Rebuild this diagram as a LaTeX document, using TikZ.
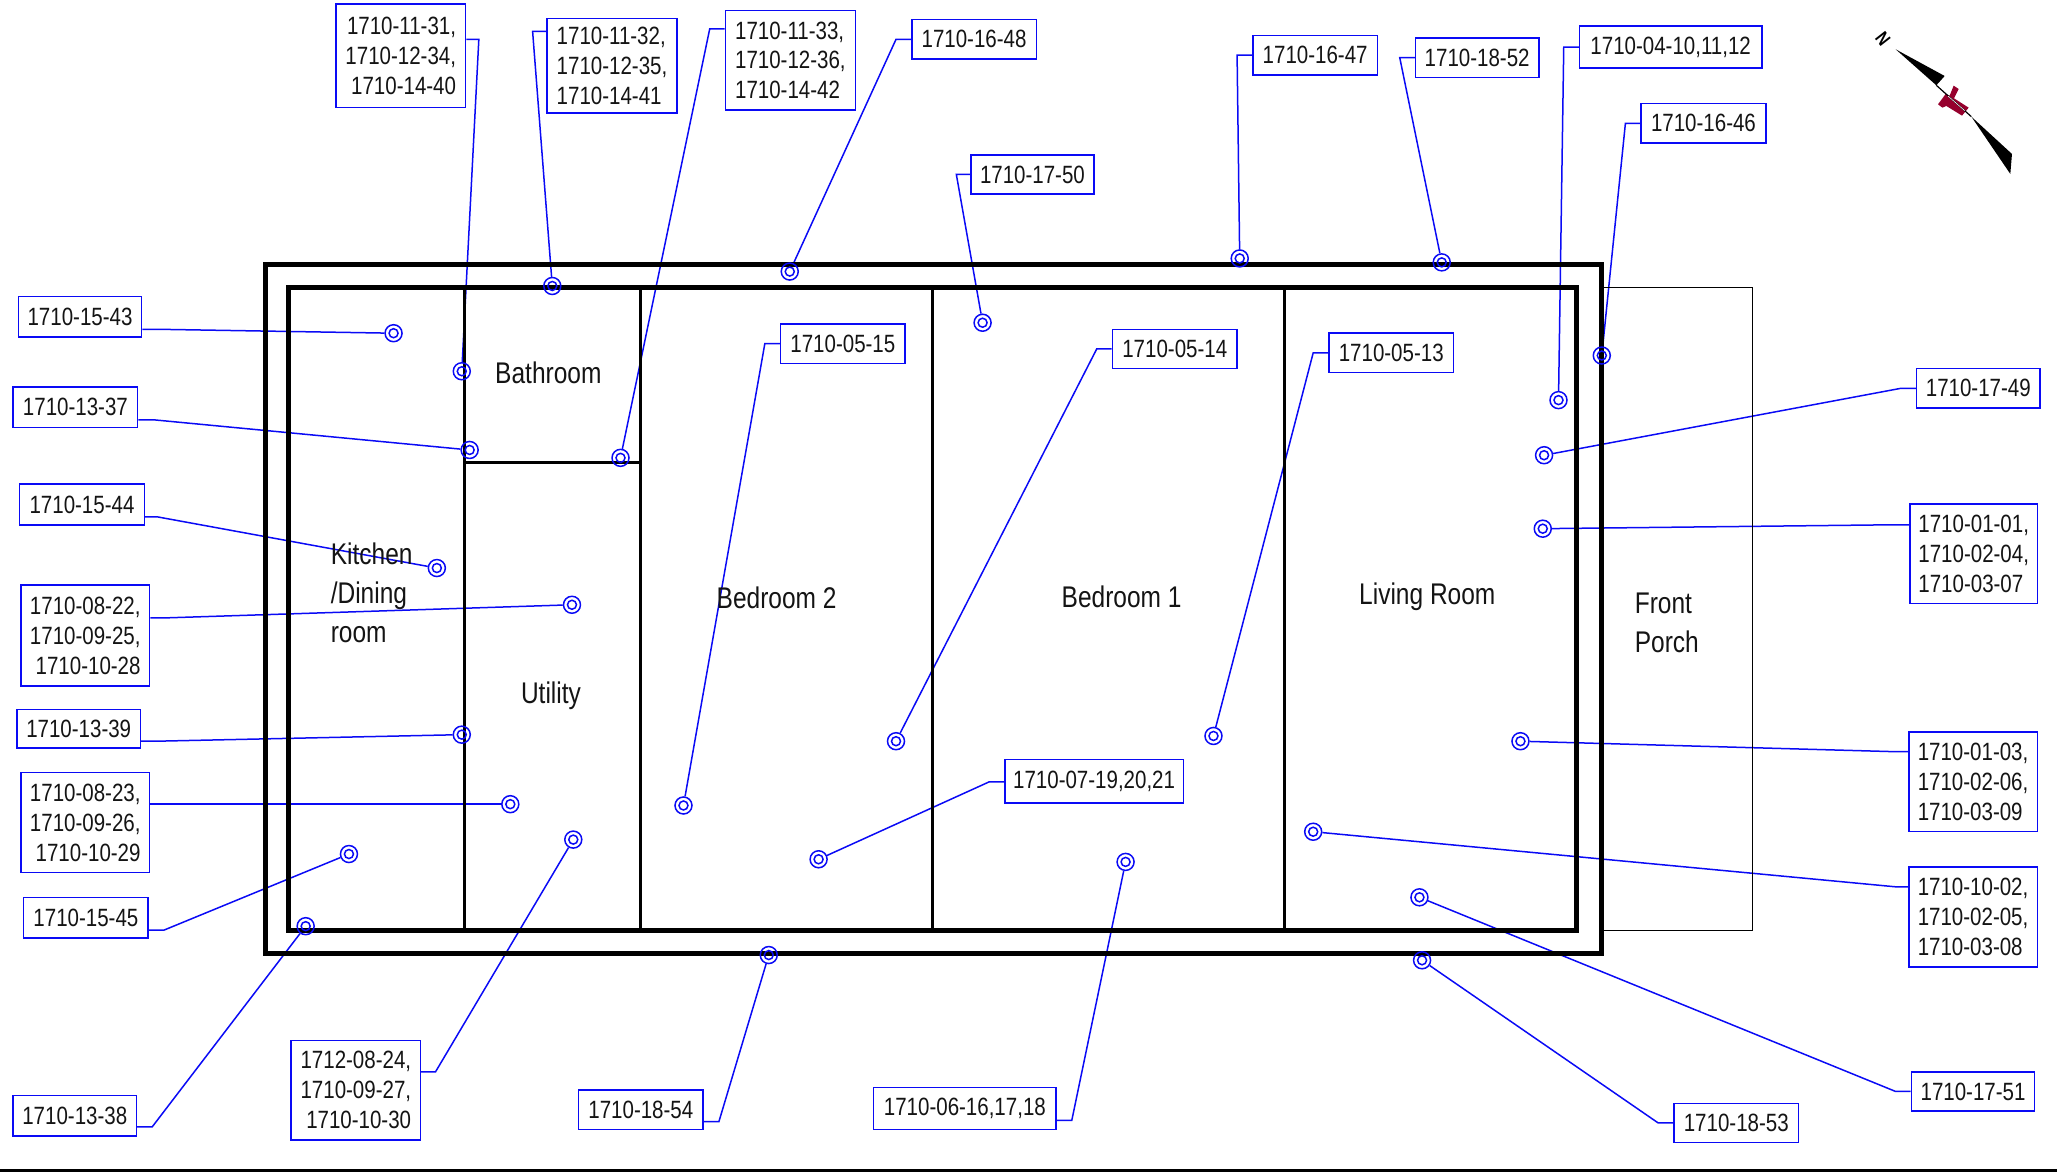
\documentclass[tikz,border=0pt]{standalone}
\usepackage{fontspec}
\setmainfont[FakeStretch=0.82]{Liberation Sans}
\pgfdeclarelayer{conn}\pgfdeclarelayer{walls}
\pgfsetlayers{conn,walls,main}
\definecolor{leadblue}{RGB}{10,10,245}
\definecolor{needlered}{RGB}{150,0,45}
\tikzset{
 x=1.3119bp,y=-1.3119bp,
 tagbox/.style={draw=leadblue,line width=1.5bp,fill=white,inner sep=0pt,text=black!92,font=\fontsize{25.1}{30}\selectfont},
 pt/.style={circle,draw=leadblue,line width=1.5bp,minimum size=17bp,inner sep=0pt,
   path picture={\draw[leadblue,line width=1.5bp] (path picture bounding box.center) circle (4.5bp);}},
 leadline/.style={draw=leadblue,line width=1.5bp},
 wall/.style={draw=black,line width=5bp,line join=miter},
 part/.style={draw=black,line width=3bp},
 room/.style={text=black!92,inner sep=0pt,font=\fontsize{30}{39}\selectfont},
}
\newcommand{\tagb}[7][center]{% [align] name x1 y1 x2 y2 text
 \node[tagbox,align=#1,minimum width={(#5-#3)*1.3119bp},minimum height={(#6-#4)*1.3119bp}] (#2) at ({(#3+#5)/2},{(#4+#6)/2}) {#7};}
\newcommand{\lead}[7]{% box anchor ex ey tx ty id
 \node[pt] (t#7) at (#5,#6) {};
 \coordinate (e#7) at (#3,#4);
 \begin{pgfonlayer}{conn}
 \draw[leadline] (#1.#2 |- e#7) -- (e#7) -- (t#7);
 \end{pgfonlayer}}
\begin{document}
\begin{tikzpicture}
\useasboundingbox (0,0) rectangle (1568,893.4);
% walls
\begin{pgfonlayer}{walls}
\draw[draw=black,line width=1bp] (1221,219) rectangle (1336,709.5);
\draw[wall] (202.5,202) rectangle (1220.5,727);
\draw[wall] (220,219.5) rectangle (1202,709);
\draw[part] (354,219) -- (354,709);
\draw[part] (488,219) -- (488,709);
\draw[part] (711,219) -- (711,709);
\draw[part] (979,219) -- (979,709);
\draw[part] (354,352.5) -- (488,352.5);
\draw[draw=black,line width=3bp] (0,892) -- (1568,892);
\end{pgfonlayer}
% rooms
\node[room] (bath) at (418,284) {Bathroom};
\node[room] (bed2) at (592,456) {Bedroom 2};
\node[room] (bed1) at (855,455) {Bedroom 1};
\node[room] (living) at (1088,455) {Living Room};
\node[room] (util) at (420,530) {Utility};
\node[room,align=left,anchor=west] (kitchen) at (252,452) {Kitchen\\/Dining\\room};
\node[room,align=left,anchor=west] (porch) at (1246,475) {Front\\Porch};
% tags: top
\tagb[right]{a1}{256}{3}{355}{82}{1710-11-31,\\1710-12-34,\\1710-14-40}
\lead{a1}{east}{365}{30}{352}{283}{a1}
\tagb[left]{a2}{417}{14}{516}{86}{1710-11-32,\\1710-12-35,\\1710-14-41}
\lead{a2}{west}{406}{24}{421}{218}{a2}
\tagb[left]{a3}{553}{8}{652}{84}{1710-11-33,\\1710-12-36,\\1710-14-42}
\lead{a3}{west}{541}{22}{473}{349}{a3}
\tagb{a4}{695}{15}{790}{45}{1710-16-48}
\lead{a4}{west}{683}{30}{602}{207}{a4}
\tagb{a5}{740}{118}{834}{148}{1710-17-50}
\lead{a5}{west}{729}{133}{749}{246}{a5}
\tagb{a6}{955}{27}{1050}{57}{1710-16-47}
\lead{a6}{west}{943}{42}{945}{197}{a6}
\tagb{a7}{1079}{29}{1173}{59}{1710-18-52}
\lead{a7}{west}{1067}{44}{1099}{200}{a7}
\tagb{a8}{1204}{20}{1343}{52}{1710-04-10,11,12}
\lead{a8}{west}{1192}{36}{1188}{305}{a8}
\tagb{a9}{1251}{79}{1346}{109}{1710-16-46}
\lead{a9}{west}{1239}{94}{1221}{271}{a9}
% interior
\tagb{b1}{595}{247}{690}{277}{1710-05-15}
\lead{b1}{west}{583}{262}{521}{614}{b1}
\tagb{b2}{848}{251}{943}{281}{1710-05-14}
\lead{b2}{west}{836}{266}{683}{565}{b2}
\tagb{b3}{1013}{254}{1108}{284}{1710-05-13}
\lead{b3}{west}{1001}{269}{925}{561}{b3}
\tagb{b4}{766}{579}{902}{612}{1710-07-19,20,21}
\lead{b4}{west}{754}{596}{624}{655}{b4}
% right
\tagb{c1}{1461}{281}{1555}{311}{1710-17-49}
\lead{c1}{west}{1449}{296}{1177}{347}{c1}
\tagb[left]{c2}{1456}{384}{1553}{460}{1710-01-01,\\1710-02-04,\\1710-03-07}
\lead{c2}{west}{1445}{400}{1176}{403}{c2}
\tagb[left]{c3}{1455}{558}{1553}{634}{1710-01-03,\\1710-02-06,\\1710-03-09}
\lead{c3}{west}{1445}{573}{1159}{565}{c3}
\tagb[left]{c4}{1455}{661}{1553}{737}{1710-10-02,\\1710-02-05,\\1710-03-08}
\lead{c4}{west}{1445}{676}{1001}{634}{c4}
\tagb{c5}{1457}{817}{1551}{847}{1710-17-51}
\lead{c5}{west}{1445}{832}{1082}{684}{c5}
\tagb{c6}{1276}{841}{1371}{871}{1710-18-53}
\lead{c6}{west}{1264}{856}{1084}{732}{c6}
% bottom
\tagb{d1}{666}{829}{805}{861}{1710-06-16,17,18}
\lead{d1}{east}{817}{854}{858}{657}{d1}
\tagb{d2}{441}{831}{536}{861}{1710-18-54}
\lead{d2}{east}{548}{855}{586}{728}{d2}
\tagb[right]{d3}{222}{793}{320.5}{869}{1712-08-24,\\1710-09-27,\\1710-10-30}
\lead{d3}{east}{332}{817}{437}{640}{d3}
\tagb{d4}{10}{835}{104}{866}{1710-13-38}
\lead{d4}{east}{116}{859}{233}{706}{d4}
% left
\tagb{e1}{18}{684}{113}{715}{1710-15-45}
\lead{e1}{east}{125}{709}{266}{651}{e1}
\tagb[right]{e2}{16}{589}{114}{665}{1710-08-23,\\1710-09-26,\\1710-10-29}
\lead{e2}{east}{126}{613}{389}{613}{e2}
\tagb{e3}{13}{541}{107}{570}{1710-13-39}
\lead{e3}{east}{119}{565}{352}{560}{e3}
\tagb[right]{e4}{16}{446}{114}{523}{1710-08-22,\\1710-09-25,\\1710-10-28}
\lead{e4}{east}{126}{471}{436}{461}{e4}
\tagb{e5}{15}{369}{110}{400}{1710-15-44}
\lead{e5}{east}{120}{394}{333}{433}{e5}
\tagb{e6}{10}{295}{105}{326}{1710-13-37}
\lead{e6}{east}{117}{320}{358}{343}{e6}
\tagb{e7}{14}{226}{108}{257}{1710-15-43}
\lead{e7}{east}{120}{251}{300}{254}{e7}
% compass (coordinates in 3x zoom of the corner)
\begin{scope}[x=0.3333bp,y=-0.3333bp,shift={(1800*3,0)}]
\fill[needlered] (415,313) -- (438,282) -- (450,287) -- (462,257) -- (477,267) -- (463,295) -- (507,323) -- (487,347) -- (440,318) -- (428,323) -- cycle;
\fill[black] (288,148) -- (435,228) -- (410,256) -- cycle;
\fill[black] (515,350) -- (637,462) -- (632,522) -- cycle;
\draw[black,line width=1.2bp] (410,256) -- (515,350);
\draw[white,line width=.6bp] (445,288) -- (495,332);
\node[inner sep=0pt,font=\fontsize{19}{19}\selectfont\bfseries,rotate=-52] (north) at (250,117) {N};
\end{scope}
\end{tikzpicture}
\end{document}
